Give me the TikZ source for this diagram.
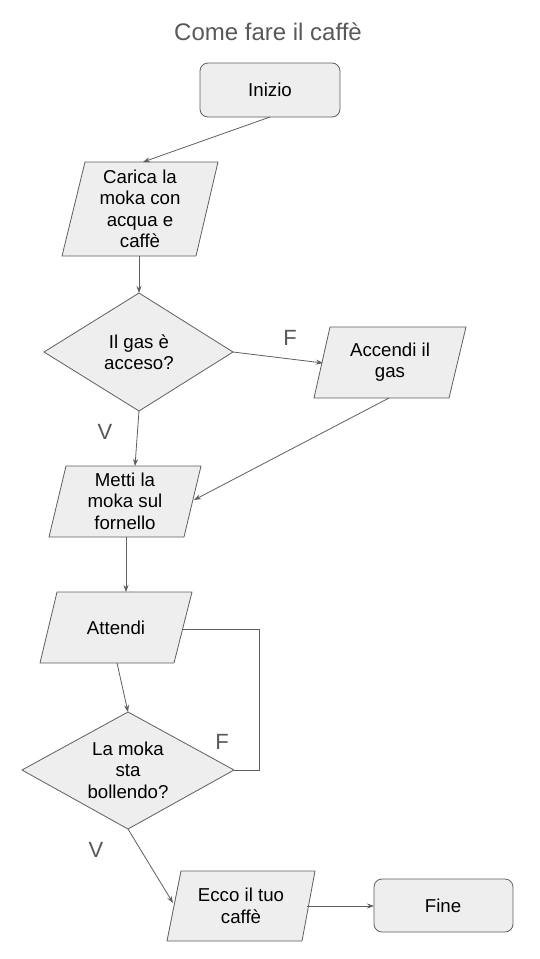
\documentclass[tikz,border=0pt]{standalone}
\usepackage{fontspec}
\setmainfont{Liberation Sans}
\usetikzlibrary{arrows.meta}
\definecolor{ln}{HTML}{5F5F5F}
\definecolor{fl}{HTML}{EEEEEE}
\definecolor{tc}{HTML}{595959}
\tikzset{
  box/.style={draw=ln, fill=fl, line width=0.8pt, line join=round},
  txt/.style={font=\fontsize{18.67}{21.5}\selectfont, align=center, text=black, inner sep=0pt},
  lbl/.style={font=\fontsize{22}{25}\selectfont, text=tc, inner sep=0pt},
  conn/.style={draw=ln, line width=0.8pt},
  arr/.style={conn, -{Stealth[length=7pt,width=5pt]}},
}
\begin{document}
\begin{tikzpicture}[x=1pt,y=-1pt]
\useasboundingbox (0,0) rectangle (540,959);
\fill[white] (0,0) rectangle (540,959);
% title
\node[font=\fontsize{24}{28}\selectfont, text=tc, inner sep=0pt] (title) at (268,32) {Come fare il caffè};
% Inizio
\draw[box, rounded corners=8pt] (200,63) rectangle (340,117);
\node[txt] (inizio) at (270,90) {Inizio};
\coordinate (inizio-b) at (270,117);
% Carica
\draw[box] (85,162) -- (218,162) -- (196,256) -- (62,256) -- cycle;
\node[txt] (carica) at (140,209) {Carica la\\moka con\\acqua e\\caffè};
\coordinate (carica-t) at (143,162);
\coordinate (carica-b) at (139,256);
% Diamond 1
\draw[box] (139,293) -- (233,352) -- (139,411) -- (44,352) -- cycle;
\node[txt] (gas) at (139,352) {Il gas è\\acceso?};
\coordinate (gas-t) at (139,293);
\coordinate (gas-r) at (233,352);
\coordinate (gas-b) at (139,411);
% Accendi
\draw[box] (330,327) -- (466,327) -- (449,398) -- (314,398) -- cycle;
\node[txt] (accendi) at (390,362) {Accendi il\\gas};
\coordinate (accendi-l) at (323,363);
\coordinate (accendi-b) at (389,398);
% Metti
\draw[box] (66,466) -- (201,466) -- (184,537) -- (49,537) -- cycle;
\node[txt] (metti) at (125,501) {Metti la\\moka sul\\fornello};
\coordinate (metti-t) at (135,466);
\coordinate (metti-r) at (194,500);
\coordinate (metti-b) at (126,537);
% Attendi
\draw[box] (57,592) -- (192,592) -- (174,663) -- (40,663) -- cycle;
\node[txt] (attendi) at (116,628) {Attendi};
\coordinate (attendi-t) at (126,592);
\coordinate (attendi-r) at (183,629);
\coordinate (attendi-b) at (117,663);
% Diamond 2
\draw[box] (128,712) -- (234,770) -- (128,829) -- (22,770) -- cycle;
\node[txt] (moka) at (128,770) {La moka\\sta\\bollendo?};
\coordinate (moka-t) at (128,712);
\coordinate (moka-r) at (234,770);
\coordinate (moka-b) at (128,829);
% Ecco
\draw[box] (181,871) -- (315,871) -- (302,941) -- (167,941) -- cycle;
\node[txt] (ecco) at (241,906) {Ecco il tuo\\caffè};
\coordinate (ecco-l) at (173,903);
\coordinate (ecco-r) at (307,906);
% Fine
\draw[box, rounded corners=8pt] (374,879) rectangle (513,932);
\node[txt] (fine) at (443,906) {Fine};
\coordinate (fine-l) at (374,906);
% connectors
\draw[arr] (inizio-b) -- (carica-t);
\draw[arr] (carica-b) -- (gas-t);
\draw[arr] (gas-r) -- (accendi-l);
\draw[arr] (gas-b) -- (metti-t);
\draw[arr] (accendi-b) -- (metti-r);
\draw[arr] (metti-b) -- (attendi-t);
\draw[arr] (attendi-b) -- (moka-t);
\draw[conn] (attendi-r) -- (259,629) -- (259,770) -- (moka-r);
\draw[arr] (moka-b) -- (ecco-l);
\draw[arr] (ecco-r) -- (fine-l);
% labels
\node[lbl] (f1) at (290,338) {F};
\node[lbl] (v1) at (105,432) {V};
\node[lbl] (f2) at (222,742) {F};
\node[lbl] (v2) at (96,850) {V};
\end{tikzpicture}
\end{document}
